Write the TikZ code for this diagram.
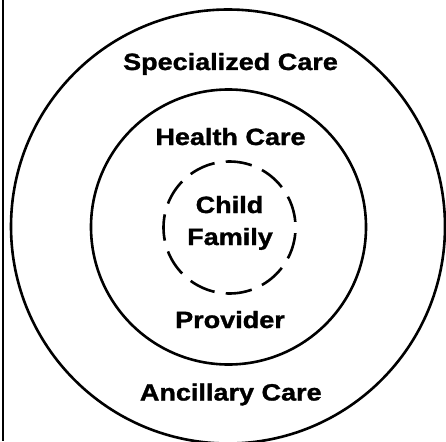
\documentclass[tikz,border=0pt]{standalone}
\usepackage{fontspec}
\newfontfamily\labfont{Liberation Sans Bold}[FakeStretch=1.15,FakeBold=1.3]
\begin{document}
\begin{tikzpicture}[x=1pt,y=-1pt,
  ring/.style={circle,draw=black,line width=2.6pt,inner sep=0pt,outer sep=0pt},
  dashring/.style={ring,dash pattern=on 26.4pt off 11.3pt,dash phase=32.05pt},
  lbl/.style={font=\labfont\fontsize{23.5}{28}\selectfont,anchor=base,inner sep=0pt}]
\useasboundingbox (0,0) rectangle (446,441);
\fill[white] (0,0) rectangle (446,441);
\begin{scope}
\clip (0,0) rectangle (446,441);
\node[ring,minimum size=434pt] (outer) at (228,226.5) {};
\node[ring,minimum size=275pt] (middle) at (228.5,227) {};
\node[dashring,minimum size=132pt] (inner) at (229.5,227.5) {};
\end{scope}
\coordinate (lt) at (3,0);
\coordinate (lb) at (3,441);
\draw[line width=2.4pt] (lt) -- (lb);
\node[lbl] (spec) at (230.5,70) {Specialized Care};
\node[lbl] (health) at (230.5,145) {Health Care};
\node[lbl] (child) at (229.5,213) {Child};
\node[lbl] (family) at (230,245) {Family};
\node[lbl] (prov) at (230,328) {Provider};
\node[lbl] (anc) at (230.8,400.5) {Ancillary Care};
\end{tikzpicture}
\end{document}
